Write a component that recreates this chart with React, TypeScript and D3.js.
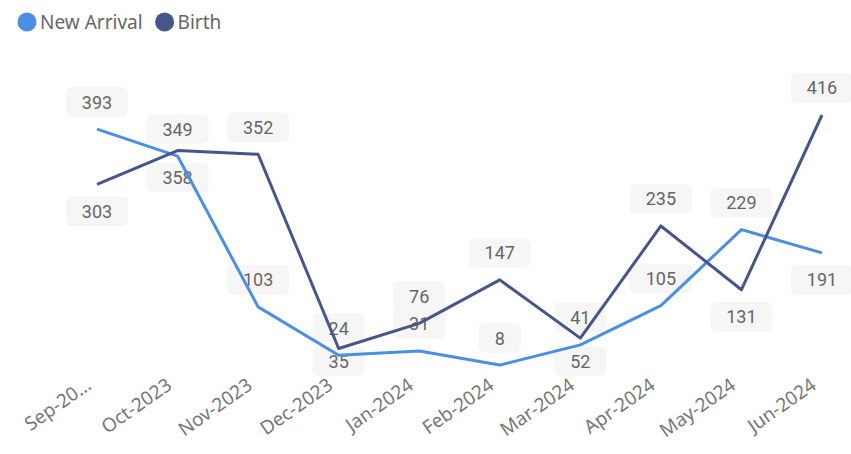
import React, { useEffect, useRef } from "react";
import * as d3 from "d3";

// months on the x axis
const months = [
  "Sep-2023", "Oct-2023", "Nov-2023", "Dec-2023", "Jan-2024",
  "Feb-2024", "Mar-2024", "Apr-2024", "May-2024", "Jun-2024",
];
const tickLabels = [
  "Sep-20…", "Oct-2023", "Nov-2023", "Dec-2023", "Jan-2024",
  "Feb-2024", "Mar-2024", "Apr-2024", "May-2024", "Jun-2024",
];
const newArrival = [393, 349, 103, 24, 31, 8, 41, 105, 229, 191];
const birth = [303, 358, 352, 35, 76, 147, 52, 235, 131, 416];
// -1 = label above the point, 1 = below
const newArrivalSide = [-1, -1, -1, -1, -1, -1, -1, -1, -1, 1];
const birthSide = [1, 1, -1, 1, -1, -1, 1, -1, 1, -1];

const width = 851;
const height = 454;

const series = [
  { name: "New Arrival", values: newArrival, side: newArrivalSide, color: "#4A90E2" },
  { name: "Birth", values: birth, side: birthSide, color: "#46568A" },
];

const App = () => {
  const ref = useRef<SVGSVGElement>(null);

  function lineChart() {
    const svg = d3.select(ref.current);
    svg.selectAll("*").remove();

    const plotBottom = 376;
    const x = d3.scalePoint<string>().domain(months).range([97, 822]);
    const y = d3
      .scaleLinear()
      .domain([0, d3.max([...newArrival, ...birth]) as number])
      .range([370, 115]);

    // legend
    const legend = svg.append("g").attr("font-family", "'Segoe UI', 'Noto Sans', sans-serif").attr("font-size", 19);
    let lx = 27;
    series.forEach((s) => {
      legend.append("circle").attr("cx", lx).attr("cy", 22).attr("r", 9.5).attr("fill", s.color);
      const t = legend
        .append("text")
        .attr("x", lx + 13)
        .attr("y", 29)
        .attr("fill", "#666")
        .text(s.name);
      lx += 13 + (t.node() as SVGTextElement).getComputedTextLength() + 22;
    });

    // x axis
    const axis = svg
      .append("g")
      .attr("transform", `translate(0,${plotBottom + 2})`)
      .call(
        d3
          .axisBottom(x)
          .tickSize(0)
          .tickFormat((d, i) => tickLabels[i])
      );
    axis.select(".domain").remove();
    axis
      .selectAll("text")
      .attr("font-family", "'Segoe UI', 'Noto Sans', sans-serif")
      .attr("font-size", 19)
      .attr("fill", "#777")
      .attr("text-anchor", "end")
      .attr("x", 0)
      .attr("y", 0)
      .attr("dy", 0)
      .attr("transform", "translate(-5,10) rotate(-35)");

    // data labels (drawn under the lines)
    const labels = svg.append("g").attr("font-family", "Roboto, sans-serif").attr("font-size", 18);
    series.forEach((s) => {
      s.values.forEach((v, i) => {
        const cx = x(months[i]) as number;
        const boxH = 29.5;
        let cy = y(v) + s.side[i] * 27;
        if (cy + boxH / 2 > plotBottom) cy = plotBottom - boxH / 2;
        const g = labels.append("g");
        const rect = g.append("rect").attr("fill", "#f6f6f6").attr("rx", 6);
        const t = g
          .append("text")
          .attr("x", cx)
          .attr("y", cy)
          .attr("dy", "0.36em")
          .attr("text-anchor", "middle")
          .attr("fill", "#666")
          .text(v);
        const w = (t.node() as SVGTextElement).getComputedTextLength() + 32;
        rect
          .attr("x", cx - w / 2)
          .attr("y", cy - boxH / 2)
          .attr("width", w)
          .attr("height", boxH);
      });
    });

    // lines
    const line = d3
      .line<number>()
      .x((d, i) => x(months[i]) as number)
      .y((d) => y(d));

    svg
      .append("g")
      .selectAll("path")
      .data(series)
      .join("path")
      .attr("fill", "none")
      .attr("stroke", (d) => d.color)
      .attr("stroke-width", 3)
      .attr("stroke-linejoin", "round")
      .attr("d", (d) => line(d.values));
  }

  useEffect(() => {
    lineChart();
  }, []);

  return (
    <svg
      ref={ref}
      width={width}
      height={height}
      style={{ position: "absolute", left: 0, top: 0, background: "#fff" }}
    ></svg>
  );
};

export default App;
